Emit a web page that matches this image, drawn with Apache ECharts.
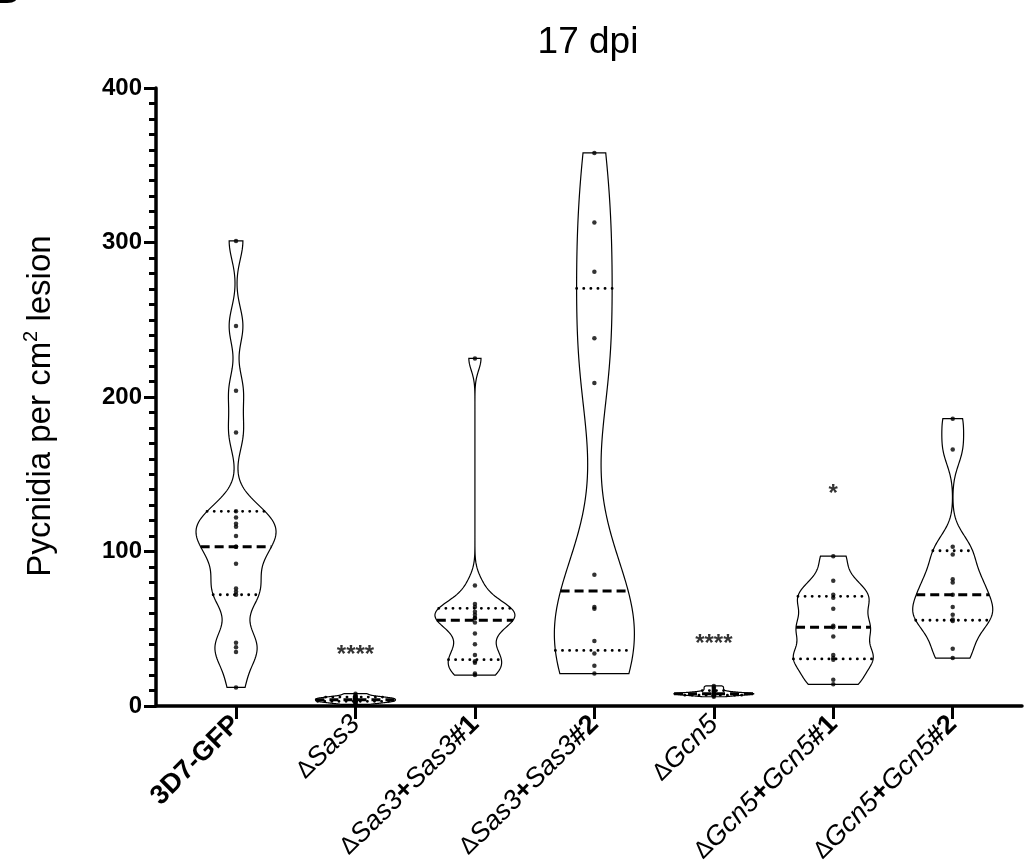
<!DOCTYPE html>
<html>
<head>
<meta charset="utf-8">
<title>17 dpi</title>
<script src="https://cdn.jsdelivr.net/npm/echarts@6/dist/echarts.min.js"></script>
<style>
  html, body { margin: 0; padding: 0; background: #fff; }
  #chart { width: 1034px; height: 868px; }
</style>
</head>
<body>
<div id="chart"></div>
<script>
// groups along the x axis
const groups = ['3D7-GFP', 'ΔSas3', 'ΔSas3+Sas3#1', 'ΔSas3+Sas3#2', 'ΔGcn5', 'ΔGcn5+Gcn5#1', 'ΔGcn5+Gcn5#2'];

// pycnidia per cm2 lesion, one array per strain
const gfp = [12, 35, 38, 41, 72, 74, 76, 92, 103, 103, 110, 116, 118, 122, 126, 177, 204, 246, 301];
const sas3 = [1, 2, 2, 3, 3, 3, 4, 4, 4, 5, 5, 5, 6, 6, 7, 8];
const sas3c1 = [20, 21, 28, 29, 33, 40, 47, 54, 57, 57, 59, 61, 64, 66, 78, 225];
const sas3c2 = [21, 26, 34, 42, 63, 64, 85, 209, 238, 281, 313, 358];
const gcn5 = [6, 7, 7, 7, 8, 8, 8, 8, 8, 9, 9, 10, 11, 12, 13];
const gcn5c1 = [14, 17, 30, 31, 33, 45, 51, 52, 63, 70, 72, 81, 97];
const gcn5c2 = [31, 37, 55, 56, 59, 64, 72, 80, 82, 98, 103, 166, 186];
const values = [gfp, sas3, sas3c1, sas3c2, gcn5, gcn5c1, gcn5c2];

// significance marks vs 3D7-GFP
const stars = ['', '****', '', '', '****', '*', ''];
const starAt = [0, 33, 0, 0, 40, 137, 0];

const FONT = '"Liberation Sans", Arial, sans-serif';
const HALF = 0.335; // max half width of a violin, in x units
const BW = 0.6;     // bandwidth factor on silverman's rule

function quantile(arr, p) {
  const s = arr.slice().sort((a, b) => a - b);
  let pos = (s.length + 1) * p;
  pos = Math.min(Math.max(pos, 1), s.length);
  const lo = Math.floor(pos), f = pos - lo;
  if (lo >= s.length) return s[s.length - 1];
  return s[lo - 1] + f * (s[lo] - s[lo - 1]);
}

// gaussian kde, cut at min / max like prism
function violin(arr) {
  const n = arr.length;
  const mean = arr.reduce((a, b) => a + b, 0) / n;
  const sd = Math.sqrt(arr.reduce((a, b) => a + (b - mean) ** 2, 0) / (n - 1));
  const iqr = quantile(arr, 0.75) - quantile(arr, 0.25);
  let h = BW * 0.9 * Math.min(sd, iqr > 0 ? iqr / 1.34 : sd) * Math.pow(n, -0.2);
  if (!(h > 0)) h = 1;
  const lo = Math.min(...arr), hi = Math.max(...arr);
  const dens = y => arr.reduce((a, x) => a + Math.exp(-0.5 * ((y - x) / h) ** 2), 0);
  const ys = [], ds = [];
  for (let k = 0; k <= 200; k++) {
    const y = lo + (hi - lo) * k / 200;
    ys.push(y); ds.push(dens(y));
  }
  const mx = Math.max(...ds);
  return {
    ys, ws: ds.map(d => HALF * d / mx), w: y => HALF * dens(y) / mx,
    med: quantile(arr, 0.5), q1: quantile(arr, 0.25), q3: quantile(arr, 0.75)
  };
}
const shapes = values.map(violin);

function richLabel(name) {
  return name.split(/(Δ|Sas3|Gcn5)/).filter(s => s).map(s => {
    if (s === 'Δ') return '{d|Δ}';
    if (s === 'Sas3' || s === 'Gcn5') return '{i|' + s + '}';
    return '{b|' + s + '}';
  }).join('');
}

const chart = echarts.init(document.getElementById('chart'));

chart.setOption({
  animation: false,
  backgroundColor: '#fff',
  title: {
    text: '17 dpi',
    left: 583,
    top: 19,
    textAlign: 'center',
    textStyle: { fontFamily: FONT, fontSize: 37, fontWeight: 'normal', color: '#000' }
  },
  graphic: [{
    type: 'text', x: -9, y: -28,
    style: { text: 'B', font: 'bold 40px ' + FONT, fill: '#000' }
  }],
  grid: { left: 156, right: 12, top: 88, bottom: 162, outerBoundsMode: 'none' },
  xAxis: {
    type: 'value',
    min: -0.67,
    max: 6.58,
    splitLine: { show: false },
    axisLine: { lineStyle: { color: '#000', width: 3.5 } },
    axisTick: { customValues: [0, 1, 2, 3, 4, 5, 6], length: 13, lineStyle: { color: '#000', width: 3 } },
    axisLabel: {
      customValues: [0, 1, 2, 3, 4, 5, 6],
      rotate: 45,
      margin: 14,
      formatter: v => richLabel(groups[Math.round(v)]),
      rich: {
        b: { fontFamily: FONT, fontSize: 27, fontWeight: 'bold', color: '#000' },
        i: { fontFamily: FONT, fontSize: 27, fontStyle: 'italic', color: '#000' },
        d: { fontFamily: FONT, fontSize: 24, color: '#000' }
      }
    }
  },
  yAxis: {
    type: 'value',
    min: 0,
    max: 400,
    interval: 100,
    name: '{a|Pycnidia per cm}{s|2}{a| lesion}',
    nameLocation: 'middle',
    nameGap: 95,
    nameTextStyle: {
      padding: [0, 18, 0, 0],
      rich: {
        a: { fontFamily: FONT, fontSize: 33, color: '#000', lineHeight: 40 },
        s: { fontFamily: FONT, fontSize: 20, color: '#000', verticalAlign: 'top', lineHeight: 24 }
      }
    },
    splitLine: { show: false },
    axisLine: { show: true, onZero: false, lineStyle: { color: '#000', width: 3.5 } },
    axisTick: { show: true, length: 12, lineStyle: { color: '#000', width: 3 } },
    minorTick: { show: true, splitNumber: 10, length: 7, lineStyle: { color: '#000', width: 3 } },
    axisLabel: { fontFamily: FONT, fontSize: 24, fontWeight: 'bold', color: '#000', margin: 14 }
  },
  series: [
    {
      type: 'custom',
      z: 2,
      data: values.map((v, i) => [i, Math.max(...v)]),
      renderItem: (params, api) => {
        const i = api.value(0);
        const s = shapes[i];
        const left = s.ys.map((y, k) => api.coord([i - s.ws[k], y]));
        const right = s.ys.map((y, k) => api.coord([i + s.ws[k], y])).reverse();
        const seg = (y, dash, width) => {
          const w = s.w(y);
          const a = api.coord([i - w, y]), b = api.coord([i + w, y]);
          return {
            type: 'line',
            shape: { x1: a[0], y1: a[1], x2: b[0], y2: b[1] },
            style: { stroke: '#000', lineWidth: width, lineDash: dash, lineCap: dash[0] < 1 ? 'round' : 'butt' }
          };
        };
        return {
          type: 'group',
          children: [
            { type: 'polygon', shape: { points: left.concat(right) }, style: { fill: '#fff', stroke: '#000', lineWidth: 1.2 } },
            seg(s.q1, [0.1, 7], 2.8),
            seg(s.q3, [0.1, 7], 2.8),
            seg(s.med, [9, 5], 3)
          ]
        };
      }
    },
    {
      type: 'scatter',
      z: 3,
      symbolSize: 4.5,
      itemStyle: { color: '#000' },
      data: values.flatMap((arr, i) => arr.map(v => [i, v]))
    },
    {
      type: 'scatter',
      z: 4,
      symbolSize: 0,
      silent: true,
      data: stars.map((s, i) => [i, starAt[i], s]).filter(d => d[2]),
      label: {
        show: true,
        position: 'inside',
        formatter: p => p.data[2],
        fontFamily: FONT,
        fontSize: 24,
        fontWeight: 'bold',
        color: '#000'
      }
    }
  ]
});
</script>
</body>
</html>
